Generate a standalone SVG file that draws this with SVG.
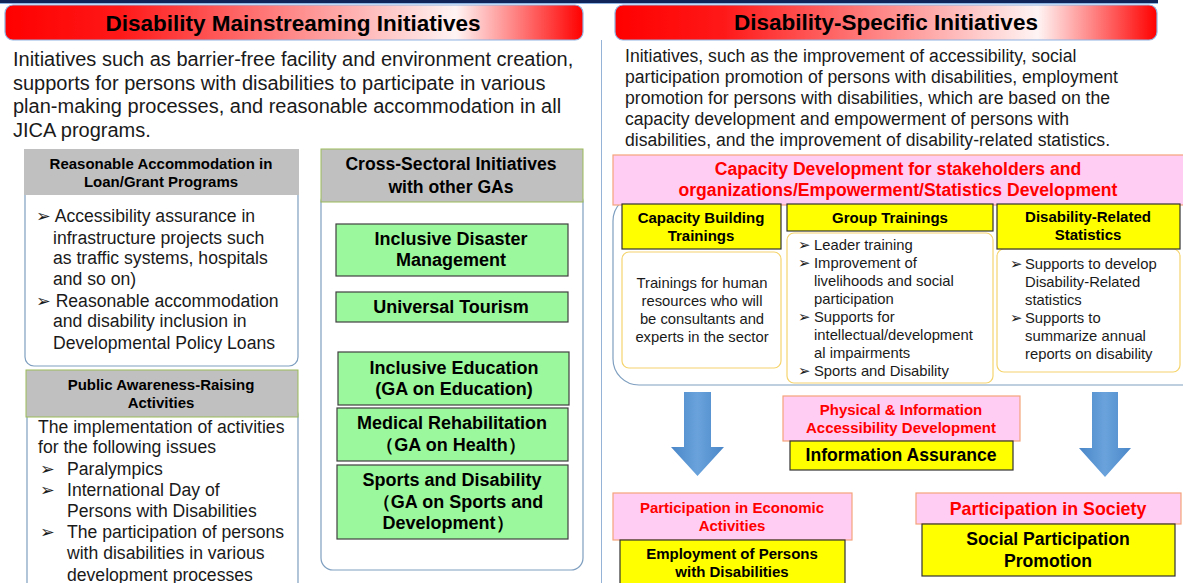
<svg xmlns="http://www.w3.org/2000/svg" width="1183" height="583" viewBox="0 0 1183 583">
<defs>
<linearGradient id="hdr" x1="0" y1="0" x2="1" y2="0">
<stop offset="0" stop-color="#ff0000"/>
<stop offset="0.2" stop-color="#ff1818"/>
<stop offset="0.78" stop-color="#fff4f4"/>
<stop offset="1" stop-color="#ff0000"/>
</linearGradient>
<linearGradient id="arr" x1="0" y1="0" x2="1" y2="0">
<stop offset="0" stop-color="#4a86c8"/>
<stop offset="0.5" stop-color="#6aa3dc"/>
<stop offset="1" stop-color="#4a86c8"/>
</linearGradient>
</defs>
<style>
text{font-family:"Liberation Sans","DejaVu Sans",Arial,sans-serif;fill:#1a1a1a}
.b{font-weight:bold;fill:#000}
.t{font-size:22.5px;font-weight:bold;fill:#000;text-anchor:middle}
.hdr{fill:url(#hdr);stroke:#8eb4e3;stroke-width:1.2}
.gray{fill:#c0c0c0}
.grayg{fill:#c0c0c0;stroke:#9bbb59;stroke-width:1}
.wbox{fill:#fff;stroke:#7f9fc0;stroke-width:1.2}
.green{fill:#9cf89c;stroke:#404040;stroke-width:1.2}
.yel{fill:#ffff00;stroke:#333;stroke-width:1.2}
.pink{fill:#ffccf4;stroke:#f4a37a;stroke-width:1.2}
.ybody{fill:#fff;stroke:#f5d46e;stroke-width:1.2}
.red{fill:#ff0000;font-weight:bold}
.c{text-anchor:middle}
.arrow{fill:url(#arr)}
.p20{font-size:20px}
.p17{font-size:17.6px}
.h15{font-size:15px}
.g18{font-size:18px}
.s15{font-size:14.8px}
</style>
<rect x="0" y="0" width="1158" height="3" fill="#10245a"/>
<line x1="0" y1="3.5" x2="1158" y2="3.5" stroke="#8eb4e3" stroke-width="1"/>
<line x1="601.5" y1="40" x2="601.5" y2="583" stroke="#95b3d7" stroke-width="1"/>

<g id="left-header">
<rect class="hdr" x="5" y="5" width="578" height="35" rx="8"/>
<text class="t" x="293" y="31">Disability Mainstreaming Initiatives</text>
</g>
<g id="left-desc">
<text class="p20" x="13" y="66">Initiatives such as barrier-free facility and environment creation,</text>
<text class="p20" x="13" y="90">supports for persons with disabilities to participate in various</text>
<text class="p20" x="13" y="113">plan-making  processes, and reasonable accommodation in all</text>
<text class="p20" x="13" y="137">JICA programs.</text>
</g>

<g id="reasonable-accommodation">
<rect class="wbox" x="25" y="185" width="273" height="181" rx="9"/>
<rect class="gray" x="24" y="149" width="275" height="46"/>
<text class="b c h15" x="161" y="169">Reasonable Accommodation in</text>
<text class="b c h15" x="161" y="187">Loan/Grant Programs</text>
<text class="p17" x="36" y="222">➢ Accessibility assurance in</text>
<text class="p17" x="53" y="244">infrastructure projects such</text>
<text class="p17" x="53" y="264">as traffic systems, hospitals</text>
<text class="p17" x="53" y="285">and so on)</text>
<text class="p17" x="36" y="307">➢ Reasonable accommodation</text>
<text class="p17" x="53" y="327">and disability inclusion in</text>
<text class="p17" x="53" y="349">Developmental Policy Loans</text>
</g>

<g id="public-awareness">
<rect class="wbox" x="27" y="405" width="271" height="190" rx="9"/>
<rect class="grayg" x="26" y="370" width="272" height="47"/>
<text class="b c h15" x="161" y="390">Public Awareness-Raising</text>
<text class="b c h15" x="161" y="408">Activities</text>
<text class="p17" x="38" y="433">The implementation of activities</text>
<text class="p17" x="38" y="453">for the following issues</text>
<text class="p17" x="40" y="475">➢</text>
<text class="p17" x="67" y="475">Paralympics</text>
<text class="p17" x="40" y="496">➢</text>
<text class="p17" x="67" y="496">International Day of</text>
<text class="p17" x="67" y="517">Persons with Disabilities</text>
<text class="p17" x="40" y="538">➢</text>
<text class="p17" x="67" y="538">The participation of persons</text>
<text class="p17" x="67" y="559">with disabilities in various</text>
<text class="p17" x="67" y="581">development processes</text>
</g>

<g id="cross-sectoral">
<rect class="wbox" x="321" y="190" width="262" height="380" rx="12"/>
<rect class="grayg" x="321" y="149" width="262" height="53"/>
<text class="b c p17" x="451" y="170">Cross-Sectoral Initiatives</text>
<text class="b c p17" x="451" y="193">with other GAs</text>
</g>
<g id="inclusive-disaster">
<rect class="green" x="336" y="224" width="232" height="52"/>
<text class="b c g18" x="451" y="245">Inclusive Disaster</text>
<text class="b c g18" x="451" y="266">Management</text>
</g>
<g id="universal-tourism">
<rect class="green" x="336" y="292" width="232" height="30"/>
<text class="b c g18" x="451" y="313">Universal Tourism</text>
</g>
<g id="inclusive-education">
<rect class="green" x="338" y="352" width="231" height="53"/>
<text class="b c g18" x="454" y="374">Inclusive Education</text>
<text class="b c g18" x="454" y="395">(GA on Education)</text>
</g>
<g id="medical-rehabilitation">
<rect class="green" x="337" y="408" width="231" height="53"/>
<text class="b c g18" x="452" y="429">Medical Rehabilitation</text>
<text class="b c g18" x="451" y="451">（GA on Health）</text>
</g>
<g id="sports-disability">
<rect class="green" x="337" y="465" width="231" height="74"/>
<text class="b c g18" x="452" y="486">Sports and Disability</text>
<text class="b c g18" x="458" y="508">（GA on Sports and</text>
<text class="b c g18" x="448" y="529">Development）</text>
</g>

<g id="right-header">
<rect class="hdr" x="615" y="5" width="542" height="35" rx="8"/>
<text class="t" x="886" y="30">Disability-Specific Initiatives</text>
</g>
<g id="right-desc">
<text class="p17" x="625" y="62">Initiatives, such as the improvement of accessibility, social</text>
<text class="p17" x="625" y="83">participation promotion of persons with disabilities, employment</text>
<text class="p17" x="625" y="104">promotion for persons with disabilities, which are based on the</text>
<text class="p17" x="625" y="125">capacity development and empowerment of persons with</text>
<text class="p17" x="625" y="146">disabilities, and the improvement of disability-related statistics.</text>
</g>

<g id="capacity-container">
<rect x="613" y="195" width="600" height="190" rx="26" fill="#fff" stroke="#7f9fc0" stroke-width="1.2"/>
</g>
<g id="capacity-development">
<rect class="pink" x="613" y="155" width="575" height="50"/>
<text class="red c p17" x="898" y="175">Capacity Development for stakeholders and</text>
<text class="red c p17" x="898" y="196">organizations/Empowerment/Statistics Development</text>
</g>

<g id="capacity-building">
<rect class="ybody" x="622" y="252" width="159" height="116" rx="7"/>
<rect class="yel" x="622" y="204" width="159" height="45"/>
<text class="b c h15" x="701" y="223">Capacity Building</text>
<text class="b c h15" x="701" y="241">Trainings</text>
<g fill="#333">
<text class="c s15" x="702" y="288">Trainings for human</text>
<text class="c s15" x="702" y="306">resources who will</text>
<text class="c s15" x="702" y="324">be consultants  and</text>
<text class="c s15" x="702" y="342">experts in the sector</text>
</g>
</g>

<g id="group-trainings">
<rect class="ybody" x="787" y="233" width="206" height="150" rx="7"/>
<rect class="yel" x="787" y="204" width="206" height="27"/>
<text class="b c h15" x="890" y="223">Group  Trainings</text>
<text class="s15" x="798" y="250">➢</text>
<text class="s15" x="814" y="250">Leader training</text>
<text class="s15" x="798" y="268">➢</text>
<text class="s15" x="814" y="268">Improvement  of</text>
<text class="s15" x="814" y="286">livelihoods and social</text>
<text class="s15" x="814" y="304">participation</text>
<text class="s15" x="798" y="322">➢</text>
<text class="s15" x="814" y="322">Supports for</text>
<text class="s15" x="814" y="340">intellectual/development</text>
<text class="s15" x="814" y="358">al impairments</text>
<text class="s15" x="798" y="376">➢</text>
<text class="s15" x="814" y="376">Sports and Disability</text>
</g>

<g id="disability-statistics">
<rect class="ybody" x="997" y="249" width="183" height="123" rx="7"/>
<rect class="yel" x="997" y="204" width="183" height="45"/>
<text class="b c h15" x="1088" y="222">Disability-Related</text>
<text class="b c h15" x="1088" y="240">Statistics</text>
<text class="s15" x="1010" y="269">➢</text>
<text class="s15" x="1025" y="269">Supports to develop</text>
<text class="s15" x="1025" y="287">Disability-Related</text>
<text class="s15" x="1025" y="305">statistics</text>
<text class="s15" x="1010" y="323">➢</text>
<text class="s15" x="1025" y="323">Supports to</text>
<text class="s15" x="1025" y="341">summarize annual</text>
<text class="s15" x="1025" y="359">reports on disability</text>
</g>

<g id="connectors">
<polygon class="arrow" points="684,392 711,392 711,447 724,447 697.5,476 671,447 684,447"/>
<polygon class="arrow" points="1092,392 1118,392 1118,448 1131,448 1105,477 1079,448 1092,448"/>
</g>

<g id="accessibility-development">
<rect class="pink" x="783" y="396" width="237" height="45"/>
<text class="red c h15" x="901" y="415">Physical &amp; Information</text>
<text class="red c h15" x="901" y="433">Accessibility  Development</text>
</g>
<g id="information-assurance">
<rect class="yel" x="790" y="441" width="223" height="29"/>
<text class="b c p17" x="901" y="461">Information Assurance</text>
</g>

<g id="economic-participation">
<rect class="pink" x="613" y="493" width="239" height="47"/>
<text class="red c h15" x="732" y="513">Participation in Economic</text>
<text class="red c h15" x="732" y="531">Activities</text>
</g>
<g id="employment">
<rect class="yel" x="620" y="540" width="225" height="50"/>
<text class="b c h15" x="732" y="559">Employment of Persons</text>
<text class="b c h15" x="732" y="577">with Disabilities</text>
</g>

<g id="society-participation">
<rect class="pink" x="916" y="493" width="265" height="31"/>
<text class="red c" x="1048" y="515" font-size="17.8">Participation in Society</text>
</g>
<g id="social-promotion">
<rect class="yel" x="922" y="524" width="253" height="52"/>
<text class="b c p17" x="1048" y="545">Social Participation</text>
<text class="b c p17" x="1048" y="567">Promotion</text>
</g>
</svg>
